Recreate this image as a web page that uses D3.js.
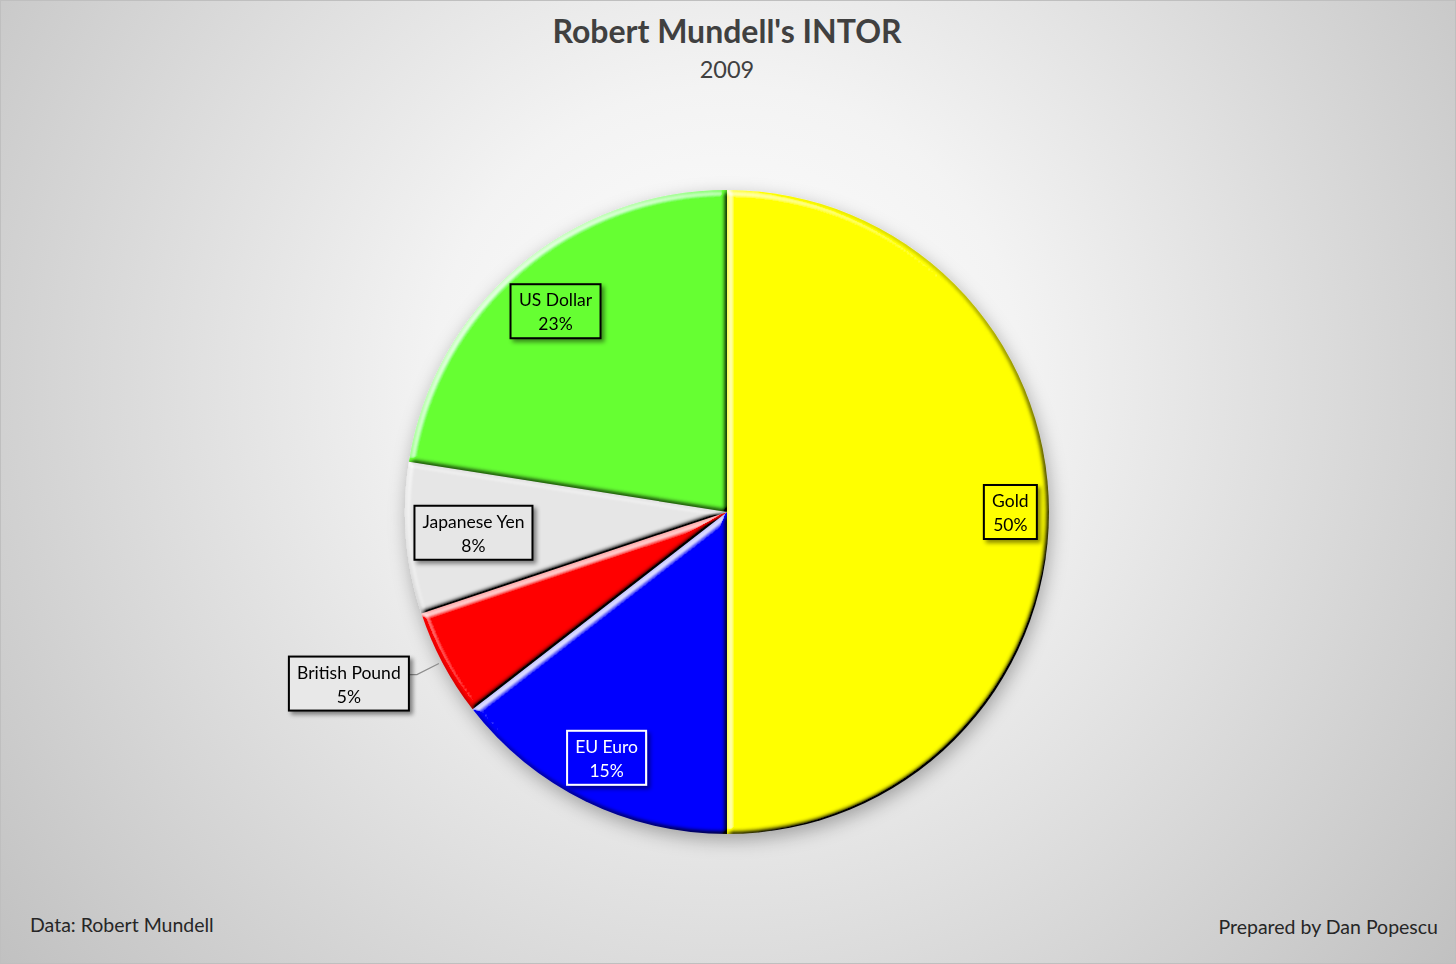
<!DOCTYPE html>
<html>
<head>
<meta charset="utf-8">
<script src="https://cdn.jsdelivr.net/npm/d3@7"></script>
<style>
  html, body { margin: 0; padding: 0; background: #fff; }
  svg { display: block; font-family: Lato, "Open Sans", sans-serif; }
</style>
</head>
<body>
<div id="chart"></div>
<script>
const width = 1456;
const height = 964;

// ------- data --------//
const categories = ["Gold", "EU Euro", "British Pound", "Japanese Yen", "US Dollar"];
const shares = [50, 14.5, 5.4, 7.6, 22.5];
const colors = ["#ffff00", "#0000ff", "#ff0000", "#e6e6e6", "#66ff33"];
const textColors = ["#000", "#fff", "#000", "#000", "#000"];
const outsideLabels = ["British Pound"];

const title = "Robert Mundell's INTOR";
const subtitle = "2009";
const sourceNote = "Data: Robert Mundell";
const creditNote = "Prepared by Dan Popescu";

// label distance from centre, as part of the radius
const labelRadius = {"Gold": 0.88, "EU Euro": 0.85, "Japanese Yen": 0.79, "US Dollar": 0.82};

const data = categories.map((c, i) => ({name: c, value: shares[i], color: colors[i], text: textColors[i]}));

const cx = 727, cy = 512, radius = 322;

const svg = d3.select("#chart")
  .append("svg")
  .attr("width", width)
  .attr("height", height);

const defs = svg.append("defs");

// background
const bg = defs.append("radialGradient")
  .attr("id", "bg")
  .attr("gradientUnits", "userSpaceOnUse")
  .attr("cx", 727).attr("cy", 380).attr("r", 980);
bg.append("stop").attr("offset", 0).attr("stop-color", "#ffffff");
bg.append("stop").attr("offset", 0.3).attr("stop-color", "#f3f3f3");
bg.append("stop").attr("offset", 1).attr("stop-color", "#bdbdbd");

// soft bevel on each slice: dark on the far side, a white rim on the lit side
const sinEl = Math.sin(50 * Math.PI / 180);
const bevel = defs.append("filter").attr("id", "bevel")
  .attr("x", "-5%").attr("y", "-5%").attr("width", "110%").attr("height", "110%");
bevel.append("feGaussianBlur").attr("in", "SourceAlpha").attr("stdDeviation", 2.6).attr("result", "blur");
bevel.append("feDiffuseLighting")
  .attr("in", "blur").attr("surfaceScale", 5).attr("diffuseConstant", 1 / sinEl)
  .attr("lighting-color", "#fff").attr("result", "diff")
  .append("feDistantLight").attr("azimuth", 225).attr("elevation", 50);
bevel.append("feComposite").attr("in", "SourceGraphic").attr("in2", "diff")
  .attr("operator", "arithmetic").attr("k1", 1).attr("k2", 0).attr("k3", 0).attr("k4", 0)
  .attr("result", "shaded");
bevel.append("feDiffuseLighting")
  .attr("in", "blur").attr("surfaceScale", 5).attr("diffuseConstant", 1)
  .attr("lighting-color", "#fff").attr("result", "diff2")
  .append("feDistantLight").attr("azimuth", 225).attr("elevation", 50);
bevel.append("feColorMatrix").attr("in", "diff2").attr("type", "matrix")
  .attr("values", `0 0 0 0 1  0 0 0 0 1  0 0 0 0 1  3 0 0 0 ${-3 * sinEl}`)
  .attr("result", "rim");
bevel.append("feComposite").attr("in", "rim").attr("in2", "SourceAlpha").attr("operator", "in").attr("result", "rimIn");
const merge = bevel.append("feMerge");
merge.append("feMergeNode").attr("in", "shaded");
merge.append("feMergeNode").attr("in", "rimIn");

const pieShadow = defs.append("filter").attr("id", "pieShadow")
  .attr("x", "-20%").attr("y", "-20%").attr("width", "140%").attr("height", "140%");
pieShadow.append("feDropShadow").attr("dx", 2).attr("dy", 6).attr("stdDeviation", 9)
  .attr("flood-color", "#000").attr("flood-opacity", 0.3);

const boxShadow = defs.append("filter").attr("id", "boxShadow")
  .attr("x", "-30%").attr("y", "-30%").attr("width", "160%").attr("height", "160%");
boxShadow.append("feDropShadow").attr("dx", 3).attr("dy", 3).attr("stdDeviation", 2)
  .attr("flood-color", "#000").attr("flood-opacity", 0.45);

svg.append("rect")
  .attr("x", 0.5).attr("y", 0.5)
  .attr("width", width - 1).attr("height", height - 1)
  .attr("fill", "url(#bg)")
  .attr("stroke", "#bfbfbf");

// ------- titles --------//
svg.append("text")
  .attr("x", cx).attr("y", 43)
  .attr("text-anchor", "middle")
  .attr("font-size", 32).attr("font-weight", "bold")
  .attr("fill", "#404040")
  .text(title);

svg.append("text")
  .attr("x", cx).attr("y", 78)
  .attr("text-anchor", "middle")
  .attr("font-size", 23.5)
  .attr("fill", "#404040")
  .text(subtitle);

svg.append("text")
  .attr("x", 30).attr("y", 932)
  .attr("font-size", 19.5).attr("fill", "#262626")
  .text(sourceNote);

svg.append("text")
  .attr("x", 1438).attr("y", 934)
  .attr("text-anchor", "end")
  .attr("font-size", 19.5).attr("fill", "#262626")
  .text(creditNote);

// ------- pie --------//
const pie = d3.pie().sort(null).value(d => d.value);
const arcs = pie(data);

const arc = d3.arc().innerRadius(0).outerRadius(radius);

const chart = svg.append("g").attr("transform", `translate(${cx},${cy})`);

chart.append("g")
  .attr("filter", "url(#pieShadow)")
  .selectAll("path")
  .data(arcs)
  .join("path")
    .attr("d", arc)
    .attr("fill", d => d.data.color)
    .attr("filter", "url(#bevel)");

// ------- labels --------//
const pct = d => Math.round(d.data.value) + "%";
const labels = chart.append("g");

arcs.forEach(d => {
  const mid = (d.startAngle + d.endAngle) / 2;
  const outside = outsideLabels.includes(d.data.name);
  const g = labels.append("g");
  const t1 = g.append("text")
    .attr("text-anchor", "middle")
    .attr("font-size", 17.5)
    .attr("fill", d.data.text)
    .attr("y", -5)
    .text(d.data.name);
  g.append("text")
    .attr("text-anchor", "middle")
    .attr("font-size", 17.5)
    .attr("fill", d.data.text)
    .attr("y", 19)
    .text(pct(d));

  const w = Math.ceil(t1.node().getComputedTextLength()) + 16;
  const h = 54;
  g.insert("rect", "text")
    .attr("x", -w / 2).attr("y", -h / 2)
    .attr("width", w).attr("height", h)
    .attr("fill", outside ? "#e8e8e8" : d.data.color)
    .attr("stroke", d.data.text === "#fff" ? "#fff" : "#000")
    .attr("stroke-width", 2)
    .attr("filter", "url(#boxShadow)");

  let x, y;
  if (outside) {
    const ex = Math.sin(mid) * radius, ey = -Math.cos(mid) * radius;
    x = ex - 34 - w / 2;
    y = ey + 20;
    labels.insert("path", "g")
      .attr("d", d3.line()([[x + w / 2, y - 9], [x + w / 2 + 8, y - 9], [ex - 4, ey]]))
      .attr("fill", "none")
      .attr("stroke", "#8c8c8c")
      .attr("stroke-width", 1.2);
  } else {
    const k = labelRadius[d.data.name] * radius;
    x = Math.sin(mid) * k;
    y = -Math.cos(mid) * k;
  }
  g.attr("transform", `translate(${x},${y})`);
});
</script>
</body>
</html>
